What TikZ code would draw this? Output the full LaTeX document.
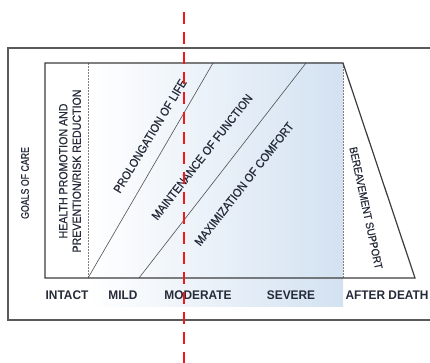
\documentclass[tikz,border=0pt]{standalone}
\usepackage{fontspec}
\setmainfont{Liberation Sans}
\newfontfamily\narrowa{Liberation Sans}[FakeStretch=0.9,FakeBold=0.6]
\newfontfamily\narrowb{Liberation Sans}[FakeStretch=0.8,FakeBold=0.6]
\newfontfamily\narrowc{Liberation Sans}[FakeStretch=0.95]
\usepackage{tikz}
\usetikzlibrary{calc,positioning}
\definecolor{inkc}{HTML}{262B3A}
\definecolor{framec}{HTML}{5A5A5A}
\definecolor{edgec}{HTML}{3C3C3C}
\definecolor{shadec}{HTML}{D3E2F1}
\definecolor{cutc}{HTML}{F01818}
\tikzset{
  frame/.style={framec,line width=1.5pt},
  edge/.style={edgec,line width=1.2pt,line join=miter},
  diag/.style={edgec!90,line width=0.6pt},
  vdash/.style={gray,line width=0.6pt,dash pattern=on 2pt off 1pt},
  cut/.style={cutc,line width=2.4pt,dash pattern=on 12pt off 8pt},
  lbl/.style={inkc,font=\narrowa\fontsize{12}{13.5}\selectfont,inner sep=0pt},
  axlbl/.style={inkc,font=\narrowc\fontsize{12.5}{14}\selectfont\bfseries,inner sep=0pt}
}
\begin{document}
\begin{tikzpicture}[x=1pt,y=1pt]
\useasboundingbox (0,0) rectangle (430,363);
% outer frame, runs off the right edge
\draw[frame] (440,315) -- (8,315) -- (8,43) -- (440,43);
% corners of the care region
\coordinate (tl) at (45,300);
\coordinate (tr) at (343,300);
\coordinate (br) at (415,85);
\coordinate (bl) at (45,85);
\coordinate (intact) at (88,85);
\coordinate (mild) at (139,85);
\coordinate (lifetop) at (213,300);
\coordinate (functop) at (306,300);
\shade[left color=white,right color=shadec] (88,56) rectangle (tr);
\draw[vdash] (intact) -- (intact |- tl);
\draw[vdash] (tr) -- (tr |- bl);
\draw[diag] (intact) -- (lifetop);
\draw[diag] (mild) -- (functop);
\draw[edge] (bl) -- (tl) -- (tr) -- (br) -- cycle;
% texts
\node[lbl,rotate=90,font=\narrowb\fontsize{11}{12}\selectfont] (goals) at (25,180) {GOALS OF CARE};
\node[lbl,rotate=90,align=center,font=\narrowa\fontsize{11.8}{13.5}\selectfont] (health) at (70,192) {HEALTH PROMOTION AND\\PREVENTION/RISK REDUCTION};
\node[lbl,rotate=59] (life) at (150,227) {PROLONGATION OF LIFE};
\node[lbl,rotate=52] (func) at (202,206) {MAINTENANCE OF FUNCTION};
\node[lbl,rotate=52] (comf) at (244,179) {MAXIMIZATION OF COMFORT};
\node[lbl,rotate=-78,font=\narrowa\fontsize{11}{12}\selectfont] (grief) at (366,155) {BEREAVEMENT SUPPORT};
\foreach \q/\lab/\nm in {67/INTACT/s0,123/MILD/s1,198/MODERATE/s2,291/SEVERE/s3,387/AFTER DEATH/s4}{
  \node[axlbl] (\nm) at (\q,68) {\lab};}
% cut line
\coordinate (cuttop) at (184,351);
\coordinate (cutbot) at (184,0);
\draw[cut] (cuttop) -- (cutbot);
\end{tikzpicture}
\end{document}
